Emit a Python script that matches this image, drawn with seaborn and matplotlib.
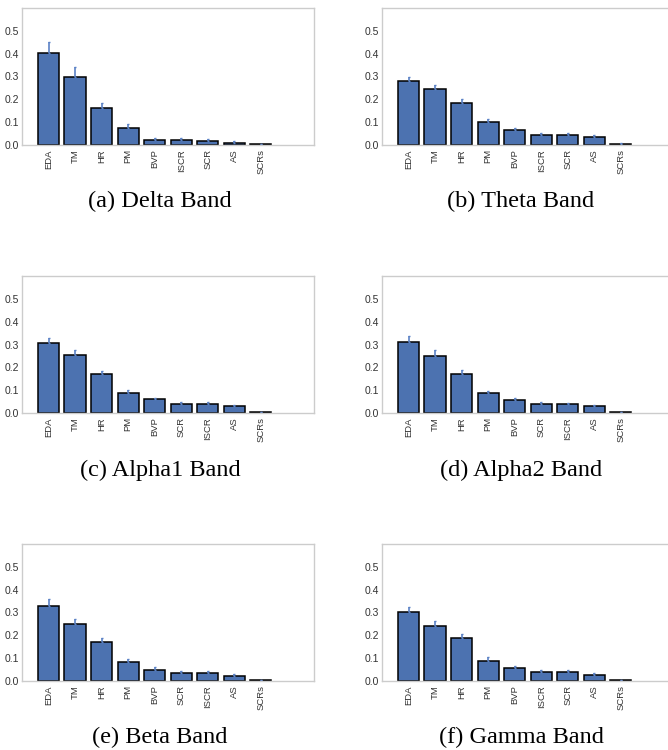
import matplotlib
matplotlib.use("Agg")
import matplotlib.pyplot as plt
import numpy as np
import pandas as pd
import seaborn as sns

# feature order per band
features_a = ["EDA", "TM", "HR", "PM", "BVP", "ISCR", "SCR", "AS", "SCRs"]
features_b = ["EDA", "TM", "HR", "PM", "BVP", "ISCR", "SCR", "AS", "SCRs"]
features_c = ["EDA", "TM", "HR", "PM", "BVP", "SCR", "ISCR", "AS", "SCRs"]
features_d = ["EDA", "TM", "HR", "PM", "BVP", "SCR", "ISCR", "AS", "SCRs"]
features_e = ["EDA", "TM", "HR", "PM", "BVP", "SCR", "ISCR", "AS", "SCRs"]
features_f = ["EDA", "TM", "HR", "PM", "BVP", "ISCR", "SCR", "AS", "SCRs"]

# mean importance
delta = [0.401, 0.296, 0.160, 0.073, 0.022, 0.020, 0.019, 0.010, 0.003]
theta = [0.278, 0.243, 0.182, 0.099, 0.066, 0.045, 0.045, 0.035, 0.006]
alpha1 = [0.307, 0.253, 0.170, 0.088, 0.060, 0.039, 0.039, 0.031, 0.004]
alpha2 = [0.313, 0.250, 0.173, 0.086, 0.057, 0.039, 0.038, 0.031, 0.003]
beta = [0.327, 0.248, 0.169, 0.084, 0.050, 0.035, 0.034, 0.023, 0.003]
gamma = [0.301, 0.240, 0.188, 0.087, 0.057, 0.038, 0.038, 0.026, 0.003]

# error (upper)
delta_err = [0.051, 0.047, 0.022, 0.019, 0.007, 0.009, 0.009, 0.006, 0.001]
theta_err = [0.018, 0.019, 0.018, 0.013, 0.008, 0.009, 0.009, 0.007, 0.002]
alpha1_err = [0.023, 0.022, 0.016, 0.013, 0.007, 0.009, 0.009, 0.006, 0.002]
alpha2_err = [0.026, 0.026, 0.017, 0.012, 0.009, 0.009, 0.007, 0.006, 0.002]
beta_err = [0.031, 0.025, 0.019, 0.014, 0.010, 0.008, 0.009, 0.006, 0.002]
gamma_err = [0.025, 0.024, 0.019, 0.016, 0.009, 0.010, 0.010, 0.008, 0.002]

captions = ["(a) Delta Band", "(b) Theta Band", "(c) Alpha1 Band",
            "(d) Alpha2 Band", "(e) Beta Band", "(f) Gamma Band"]

BAR_COLOR = "#4C72B0"
ERR_COLOR = "#5b82c6"
SPINE_COLOR = "#cccccc"
TEXT_COLOR = "#333333"


def importance_plot(ax, features, values, errors):
    """Draws one bar panel with upper error bars.
    """

    df = pd.DataFrame({"feature": features, "value": values, "err": errors})
    sns.barplot(data=df, x="feature", y="value", order=features, ax=ax,
                color=BAR_COLOR, saturation=1, width=0.8, errorbar=None,
                edgecolor="black", linewidth=1.1)
    ax.errorbar(np.arange(len(features)), df["value"], yerr=[np.zeros(len(df)), df["err"]],
                fmt="none", ecolor=ERR_COLOR, elinewidth=1.2, capsize=1, capthick=1)

    ax.set_xlim(-1, 10)
    ax.set_ylim(0, 0.6)
    ax.set_yticks(np.arange(0, 0.51, 0.1))
    ax.set_yticklabels([f"{v:.1f}" for v in np.arange(0, 0.51, 0.1)])
    ax.set_xlabel("")
    ax.set_ylabel("")
    ax.grid(False)
    ax.tick_params(axis="x", labelrotation=90, labelsize=6.8, length=0, pad=3, colors=TEXT_COLOR)
    ax.tick_params(axis="y", labelsize=7.5, length=0, pad=2, colors=TEXT_COLOR)
    for spine in ax.spines.values():
        spine.set_color(SPINE_COLOR)
        spine.set_linewidth(1)


sns.set_theme(style="white")
plt.rcParams["font.family"] = ["Liberation Sans", "DejaVu Sans"]

fig = plt.figure(figsize=(6.68, 7.5), dpi=100)

panels = [
    (features_a, delta, delta_err),
    (features_b, theta, theta_err),
    (features_c, alpha1, alpha1_err),
    (features_d, alpha2, alpha2_err),
    (features_e, beta, beta_err),
    (features_f, gamma, gamma_err),
]

lefts = [0.0329, 0.5719]
bottoms = [0.8067, 0.4493, 0.092]
cap_x = [0.2395, 0.78]
cap_y = [0.731, 0.3733, 0.0173]

for i, (features, values, errors) in enumerate(panels):
    row, col = divmod(i, 2)
    ax = fig.add_axes([lefts[col], bottoms[row], 0.437, 0.1827])
    importance_plot(ax, features, values, errors)
    fig.text(cap_x[col], cap_y[row], captions[i], ha="center", va="center",
             fontsize=17.5, family=["Liberation Serif", "DejaVu Serif"], color="black")

plt.savefig("out.png", dpi=100)
